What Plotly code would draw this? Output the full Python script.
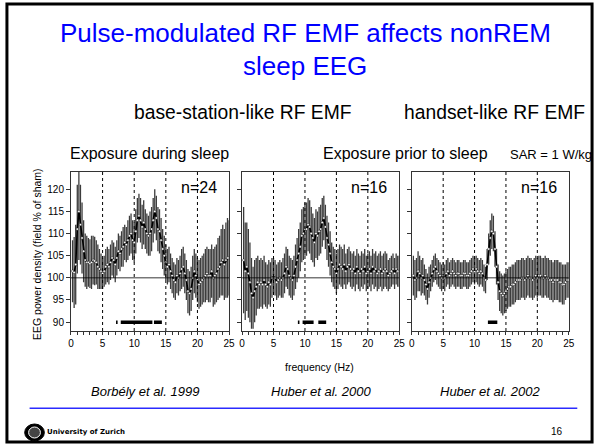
import plotly.graph_objects as go

# ---------------- data ----------------
FREQ = [round(0.25 * i, 2) for i in range(1, 101)]  # 0.25 Hz bins

P1_MEAN = [101.5, 101.2, 103, 111, 115, 112, 109, 106, 104, 103.5, 103.5, 103.2, 103.5, 104, 103.8, 103.5, 102.5, 102, 101.5, 101,
           101.5, 102.5, 103, 102.5, 103.5, 104.5, 104, 103, 104.5, 106, 105.5, 106.5, 107, 108, 107.5, 108.5, 109.5, 110, 108.5, 108,
           110.5, 113, 114, 113, 111.5, 112.5, 111, 110, 109.5, 110, 111, 113, 115, 113.5, 111, 110.5, 108.5, 106.5, 105, 103.5,
           102.5, 103, 101.5, 100.5, 99.5, 99, 100.5, 100, 101, 102, 102.5, 101, 99.5, 97, 96.5, 97.5, 100, 101.5, 100.5, 99.5,
           98.5, 99, 99.5, 100, 100.5, 101, 100.5, 100.5, 101.5, 100, 100.5, 101, 102, 102.5, 103.5, 104, 103, 104, 104.5, 104.5]
P1_SEM = [7, 8, 9, 10, 11, 9, 8, 7, 6, 6, 5.5, 5.5, 6, 5.5, 5.5, 5, 5, 4.5, 4, 3.5,
          3.5, 4, 4, 4, 4, 4, 4, 4, 4, 4, 4, 4, 4.5, 4, 4, 4.5, 4.5, 4.5, 4.5, 4.5,
          5, 5, 5, 5, 5, 5, 4.5, 4.5, 4.5, 5, 5, 5, 5, 5, 5, 5, 5, 4.5, 4.5, 4,
          4, 4, 4, 4, 4, 4, 4, 4, 4, 4.5, 4.5, 4.5, 4.5, 5, 5, 5, 5, 5, 5, 5,
          5.5, 5.5, 5.5, 5.5, 6, 6, 6, 6, 6, 6.5, 6.5, 6.5, 7, 7, 7.5, 8, 8, 8.5, 9, 8.5]

P2_MEAN = [104, 101.5, 102.5, 101, 99, 96.5, 95.5, 97, 98, 99, 98.5, 99, 98.5, 99.5, 98.5, 98, 99, 98.5, 100, 100.5,
           100, 99, 99.5, 100, 99.5, 100, 101, 102.5, 102, 100.5, 100, 99.5, 100.5, 102.5, 104, 105.5, 107, 109.5, 110, 111,
           111, 112, 111.5, 110, 109, 108, 110, 109.5, 110.5, 111, 112.5, 113.5, 111.5, 109, 107.5, 105.5, 103.5, 102.5, 102, 101,
           102, 103, 102.5, 102, 103, 101.5, 102.5, 103, 102, 101.5, 102, 101, 102.5, 101.5, 101, 102, 101.5, 102.5, 101, 101.5,
           102, 101, 102.5, 101.5, 102, 101, 101.5, 102, 101, 101.5, 102, 101.5, 100.5, 101, 101.5, 102, 101, 102, 101.5, 101.5]
P2_SEM = [12, 11, 10, 10, 9, 8, 7, 7, 6.5, 6, 5.5, 5.5, 5.5, 5.5, 5, 5, 5, 5, 4.5, 4,
          4, 4, 4, 4, 4, 4.5, 4.5, 4.5, 4.5, 4.5, 4.5, 4.5, 4.5, 5, 5, 5.5, 5.5, 6, 6, 6,
          6, 6, 6, 6, 5.5, 5.5, 5.5, 5.5, 5.5, 5.5, 5.5, 5, 5, 5, 5, 5, 4.5, 4.5, 4.5, 4.5,
          4.5, 4.5, 4.5, 4.5, 4.5, 4, 4, 4, 4, 4, 4, 4, 4, 4, 4, 4, 4, 4, 4, 4,
          4, 4, 4, 4, 4, 4, 4, 4, 4, 4, 4, 4, 3.5, 3.5, 3.5, 3.5, 3.5, 3.5, 3.5, 3.5]

P3_MEAN = [100.5, 99.5, 100, 101.5, 101, 100, 100.5, 99.5, 98.5, 97.5, 99, 100, 101, 102, 102.5, 101.5, 101, 100.5, 100, 100.5,
           100, 101, 101.5, 100.5, 101, 101.5, 101, 100.5, 101, 101, 100.5, 100.5, 101, 101, 100.5, 100.5, 101, 101.5, 102, 101.5,
           102, 101.5, 101, 101.5, 101, 100, 99.5, 103, 106.5, 109, 110.5, 110, 106.5, 102.5, 99, 97, 96.5, 96, 96.5, 97,
           97.5, 98, 98, 98.5, 98.5, 99, 99.5, 99.5, 99.5, 100, 100, 99.5, 100, 100.5, 100, 100, 99.5, 100, 100.5, 100,
           100.5, 100.5, 100, 100, 100.5, 100, 100, 99.5, 99.5, 99, 99.5, 99.5, 99.5, 99, 99, 98.5, 98.5, 99, 99.5, 99.5]
P3_SEM = [4.5, 4.5, 4.5, 4.5, 4, 4, 4, 3.5, 3.5, 3.5, 3.5, 3, 3, 3, 3, 3, 3, 3, 3, 3,
          3, 3, 3, 3, 3, 3, 3, 3, 3, 3, 3, 3, 3, 3, 3, 3, 3, 3, 3, 3,
          3, 3, 3, 3, 3, 3, 3, 3.5, 3.5, 4, 4, 4, 4, 4, 4, 4.5, 4.5, 4.5, 4.5, 4.5,
          4.5, 4.5, 4.5, 4.5, 4.5, 4.5, 4.5, 4.5, 4.5, 4.5, 4.5, 4.5, 4.5, 4.5, 4.5, 4.5, 4.5, 4.5, 4.5, 4.5,
          4.5, 4.5, 4.5, 4.5, 4.5, 4.5, 4.5, 4.5, 4.5, 4.5, 4.5, 4.5, 4.5, 4.5, 4.5, 4.5, 4.5, 4, 4, 4]

# significant frequency bins (drawn as bars at SIG_LEVEL)
P1_SIG = [7.25, 8.0, 8.25, 8.5, 8.75, 9.0, 9.25, 9.5, 9.75, 10.0, 10.25, 10.5, 10.75, 11.0, 11.25, 11.5, 11.75, 12.0,
          12.25, 12.5, 12.75, 13.25, 13.5, 13.75, 14.0, 14.25]
P2_SIG = [9.0, 9.75, 10.0, 10.25, 10.5, 10.75, 11.0, 11.25, 12.25, 12.5, 12.75, 13.0, 13.25]
P3_SIG = [12.25, 12.5, 12.75, 13.0, 13.25, 13.5]
SIG_LEVEL = 90
BIN = 0.25

N_LABELS = ["n=24", "n=16", "n=16"]
CITATIONS = ["Borbély et al. 1999", "Huber et al. 2000", "Huber et al. 2002"]
BAND_EDGES = [5, 10, 15, 20]
REFERENCE = 100
Y_TICKS = [90, 95, 100, 105, 110, 115, 120]
X_TICKS = list(range(0, 26))

# ---------------- layout helpers ----------------
W, H = 602, 445
FONT = "Liberation Sans, Arial, sans-serif"


def px(x):
    return x / W


def py(y):
    return 1 - y / H


def sig_segments(bins):
    xs, ys = [], []
    start = prev = None
    for b in bins:
        if start is None:
            start = prev = b
        elif abs(b - prev - BIN) < 1e-6:
            prev = b
        else:
            xs += [start - BIN / 2, prev + BIN / 2, None]
            ys += [SIG_LEVEL, SIG_LEVEL, None]
            start = prev = b
    if start is not None:
        xs += [start - BIN / 2, prev + BIN / 2, None]
        ys += [SIG_LEVEL, SIG_LEVEL, None]
    return xs, ys


panels = [(P1_MEAN, P1_SEM, P1_SIG), (P2_MEAN, P2_SEM, P2_SIG), (P3_MEAN, P3_SEM, P3_SIG)]
x_domains = [(69, 229.5), (242.7, 402.3), (415, 574.3)]
y_top, y_bot = 171.5, 331

fig = go.Figure()
for i, (mean, sem, sig) in enumerate(panels):
    suffix = "" if i == 0 else str(i + 1)
    xa, ya = "x" + suffix, "y" + suffix
    fig.add_trace(go.Scatter(
        x=FREQ, y=mean, xaxis=xa, yaxis=ya, mode="lines+markers",
        line=dict(color="black", width=1.6),
        marker=dict(symbol="circle", size=2.4, color="white", line=dict(color="black", width=0.4)),
        error_y=dict(type="data", array=sem, visible=True, color="#3c3c3c", thickness=1.3, width=0),
        showlegend=False, hoverinfo="skip"))
    sx, sy = sig_segments(sig)
    fig.add_trace(go.Scatter(
        x=sx, y=sy, xaxis=xa, yaxis=ya, mode="lines",
        line=dict(color="black", width=3.5), showlegend=False, hoverinfo="skip"))

    axis_common = dict(showline=True, mirror=True, linecolor="#333333", linewidth=1,
                       showgrid=False, zeroline=False, ticks="outside", tickcolor="#333333",
                       tickfont=dict(family=FONT, size=10, color="black"))
    fig.update_layout(**{
        "xaxis" + suffix: dict(axis_common, domain=[px(x_domains[i][0]), px(x_domains[i][1])],
                               range=[0, 25], anchor=ya, tickvals=X_TICKS,
                               ticktext=[str(v) if v % 5 == 0 else "" for v in X_TICKS],
                               ticklen=3, fixedrange=True),
        "yaxis" + suffix: dict(axis_common, domain=[py(y_bot), py(y_top)], range=[88, 124],
                               anchor=xa, tickvals=Y_TICKS, ticklen=4,
                               showticklabels=(i == 0), fixedrange=True),
    })
    for e in BAND_EDGES:
        fig.add_shape(type="line", xref=xa, yref=ya + " domain", x0=e, x1=e, y0=0, y1=1,
                      line=dict(color="black", width=1, dash="dot"))
    fig.add_shape(type="line", xref=xa + " domain", yref=ya, x0=0, x1=1, y0=REFERENCE, y1=REFERENCE,
                  line=dict(color="black", width=0.8))
    fig.add_annotation(text=N_LABELS[i], xref=xa + " domain", yref="paper",
                       x=1 - 10 / 160, xanchor="right", y=py(188), yanchor="middle", showarrow=False,
                       font=dict(family=FONT, size=16, color="black"))

anns = [
    ("Pulse-modulated RF EMF affects nonREM", 307, 33, 26, "#0000FF", False),
    ("sleep EEG", 307, 66, 26, "#0000FF", False),
    ("base-station-like RF EMF", 243.5, 112, 19.3, "black", False),
    ("handset-like RF EMF", 498.5, 112, 19.3, "black", False),
    ("Exposure during sleep", 149, 153, 16, "black", False),
    ("Exposure prior to sleep", 408.5, 153, 16, "black", False),
    ("SAR = 1 W/kg", 556, 154, 13, "black", False),
    ("frequency (Hz)", 321.5, 366.5, 10.5, "black", False),
    (CITATIONS[0], 144, 391.5, 13, "black", True),
    (CITATIONS[1], 323, 391.5, 13, "black", True),
    (CITATIONS[2], 495, 391.5, 13, "black", True),
    ("16", 562, 431.5, 10, "black", False),
]
for text, x, y, size, color, italic in anns:
    if italic:
        text = "<i>" + text + "</i>"
    fig.add_annotation(text=text, xref="paper", yref="paper", x=px(x), y=py(y),
                       xanchor="center", yanchor="middle", showarrow=False,
                       font=dict(family=FONT, size=size, color=color))

fig.add_annotation(text="EEG power density (field % of sham)", xref="paper", yref="paper",
                   x=px(34), y=py(253.5), textangle=-90, xanchor="center", yanchor="middle",
                   showarrow=False, font=dict(family=FONT, size=10.5, color="black"))

# footer: blue rule, logo, slide frame
fig.add_shape(type="line", xref="paper", yref="paper", x0=px(27), x1=px(583), y0=py(408.3), y1=py(408.3),
              line=dict(color="#2b2bff", width=1.5))
fig.add_shape(type="circle", xref="paper", yref="paper", x0=px(22), x1=px(42), y0=py(441), y1=py(424),
              fillcolor="black", line=dict(color="black", width=1))
fig.add_shape(type="circle", xref="paper", yref="paper", x0=px(26), x1=px(38), y0=py(438), y1=py(427),
              fillcolor="#444444", line=dict(color="white", width=1))
fig.add_annotation(text="<b>University of Zurich</b>", xref="paper", yref="paper", x=px(43), y=py(432),
                   xanchor="left", yanchor="middle", showarrow=False,
                   font=dict(family="DejaVu Sans, sans-serif", size=7, color="black"))
fig.add_shape(type="rect", xref="paper", yref="paper", x0=px(4), x1=px(598), y0=py(442), y1=py(4),
              line=dict(color="black", width=3), fillcolor="rgba(0,0,0,0)")

fig.update_layout(width=W, height=H, margin=dict(l=0, r=0, t=0, b=0),
                  paper_bgcolor="white", plot_bgcolor="white",
                  font=dict(family=FONT, color="black"))

fig.write_html("out.html")
